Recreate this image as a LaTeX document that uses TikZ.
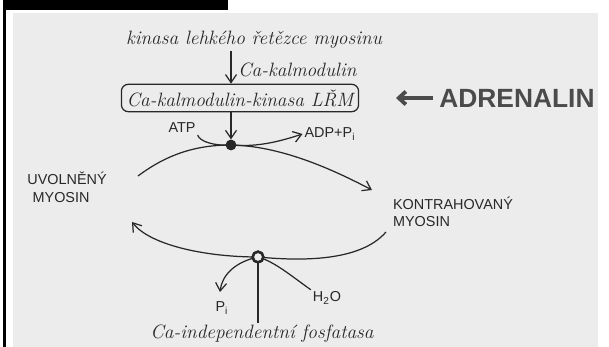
\documentclass[tikz,border=0pt]{standalone}
\usepackage{fontspec}
\setsansfont{Liberation Sans}
\usepackage{tikz}
\usetikzlibrary{arrows.meta,positioning,calc}
\definecolor{Ink}{RGB}{40,40,40}
\definecolor{Marker}{RGB}{75,75,75}
\definecolor{Paper}{RGB}{236,236,236}

\begin{document}
\begin{tikzpicture}[
  x=0.02cm, y=-0.02cm,
  hand/.style={
    font=\fontsize{11}{13}\selectfont\itshape,
    text=Ink,
    inner sep=1pt
  },
  caps/.style={
    font=\sffamily\fontsize{8.2}{10}\selectfont,
    text=Ink,
    align=left,
    inner sep=1pt
  },
  enzyme/.style={
    draw=Ink,
    rounded corners=4pt,
    line width=0.7pt,
    inner xsep=3pt,
    inner ysep=3pt,
    font=\fontsize{11}{13}\selectfont\itshape,
    text=Ink
  },
  line/.style={draw=Ink, line width=0.7pt},
  arrow/.style={line, -{Straight Barb[length=1.6mm,width=2.2mm]}},
  bold/.style={draw=Marker, line width=2.2pt, -{Straight Barb[length=1.4mm,width=2.6mm]}},
  dot/.style={circle, fill=Ink, inner sep=0pt, minimum size=6pt},
  ring/.style={circle, draw=Ink, fill=Paper, line width=1.4pt, inner sep=0pt, minimum size=6pt}
]
\useasboundingbox (0,0) rectangle (609,347);
\fill[Paper] (13,13) rectangle (598,347);
\fill[black] (3,0) rectangle (228,10);
\fill[black] (3,0) rectangle (6,347);

\node[hand] (source) at (254,40) {kinasa lehkého řetězce myosinu};
\node[hand, anchor=west] (calm) at (236,70) {Ca-kalmodulin};
\node[enzyme] (kinase) at (240,98) {Ca-kalmodulin-kinasa LŘM};
\node[font=\sffamily\bfseries\fontsize{15}{17}\selectfont, text=Marker] (adrenalin) at (517,98) {ADRENALIN};
\coordinate (hormone) at (396,98);

\node[dot] (kdot) at (231,145) {};
\node[caps] (atp) at (182,128) {ATP};
\node[caps] (adp) at (330,134) {ADP+P\textsubscript{i}};

\node[caps] (relaxed) at (67,187) {UVOLNĚNÝ\\\hspace{3pt}MYOSIN};
\node[caps] (contracted) at (453,212) {KONTRAHOVANÝ\\MYOSIN};

\node[ring] (pdot) at (258,257) {};
\node[caps] (pi) at (222,308) {P\textsubscript{i}};
\node[caps] (water) at (327,298) {H\textsubscript{2}O};
\node[hand] (phosphatase) at (262,334) {Ca-independentní fosfatasa};

\coordinate (upleft) at (138,176);
\coordinate (upright) at (372,190);
\coordinate (lowright) at (386,232);
\coordinate (lowleft) at (132,222);

% activation
\draw[arrow] (source.south -| kdot) -- (kinase.north -| kdot);
\draw[arrow] (kinase.south -| kdot) -- (kdot);
\draw[bold] (adrenalin.west) -- (hormone);

% phosphorylation
\draw[arrow] (upleft) .. controls (170,152) and (200,145) .. (kdot.center)
  .. controls (280,146) and (330,168) .. (upright);
\draw[line] (atp.south east) .. controls (200,142) and (215,146) .. (kdot.center);
\draw[arrow] (kdot.center) .. controls (255,147) and (275,143) .. (adp.west);

% dephosphorylation
\draw[arrow] (lowright) .. controls (360,262) and (300,261) .. (pdot.center)
  .. controls (205,257) and (150,245) .. (lowleft);
\draw[arrow] (pdot.center) .. controls (235,262) and (222,275) .. (220,292);
\draw[line] (water.north west) .. controls (290,275) and (275,262) .. (pdot.center);
\draw[line] (phosphatase.north -| pdot) -- (pdot);

\node[dot] at (kdot) {};
\node[ring] at (pdot) {};
\end{tikzpicture}
\end{document}
